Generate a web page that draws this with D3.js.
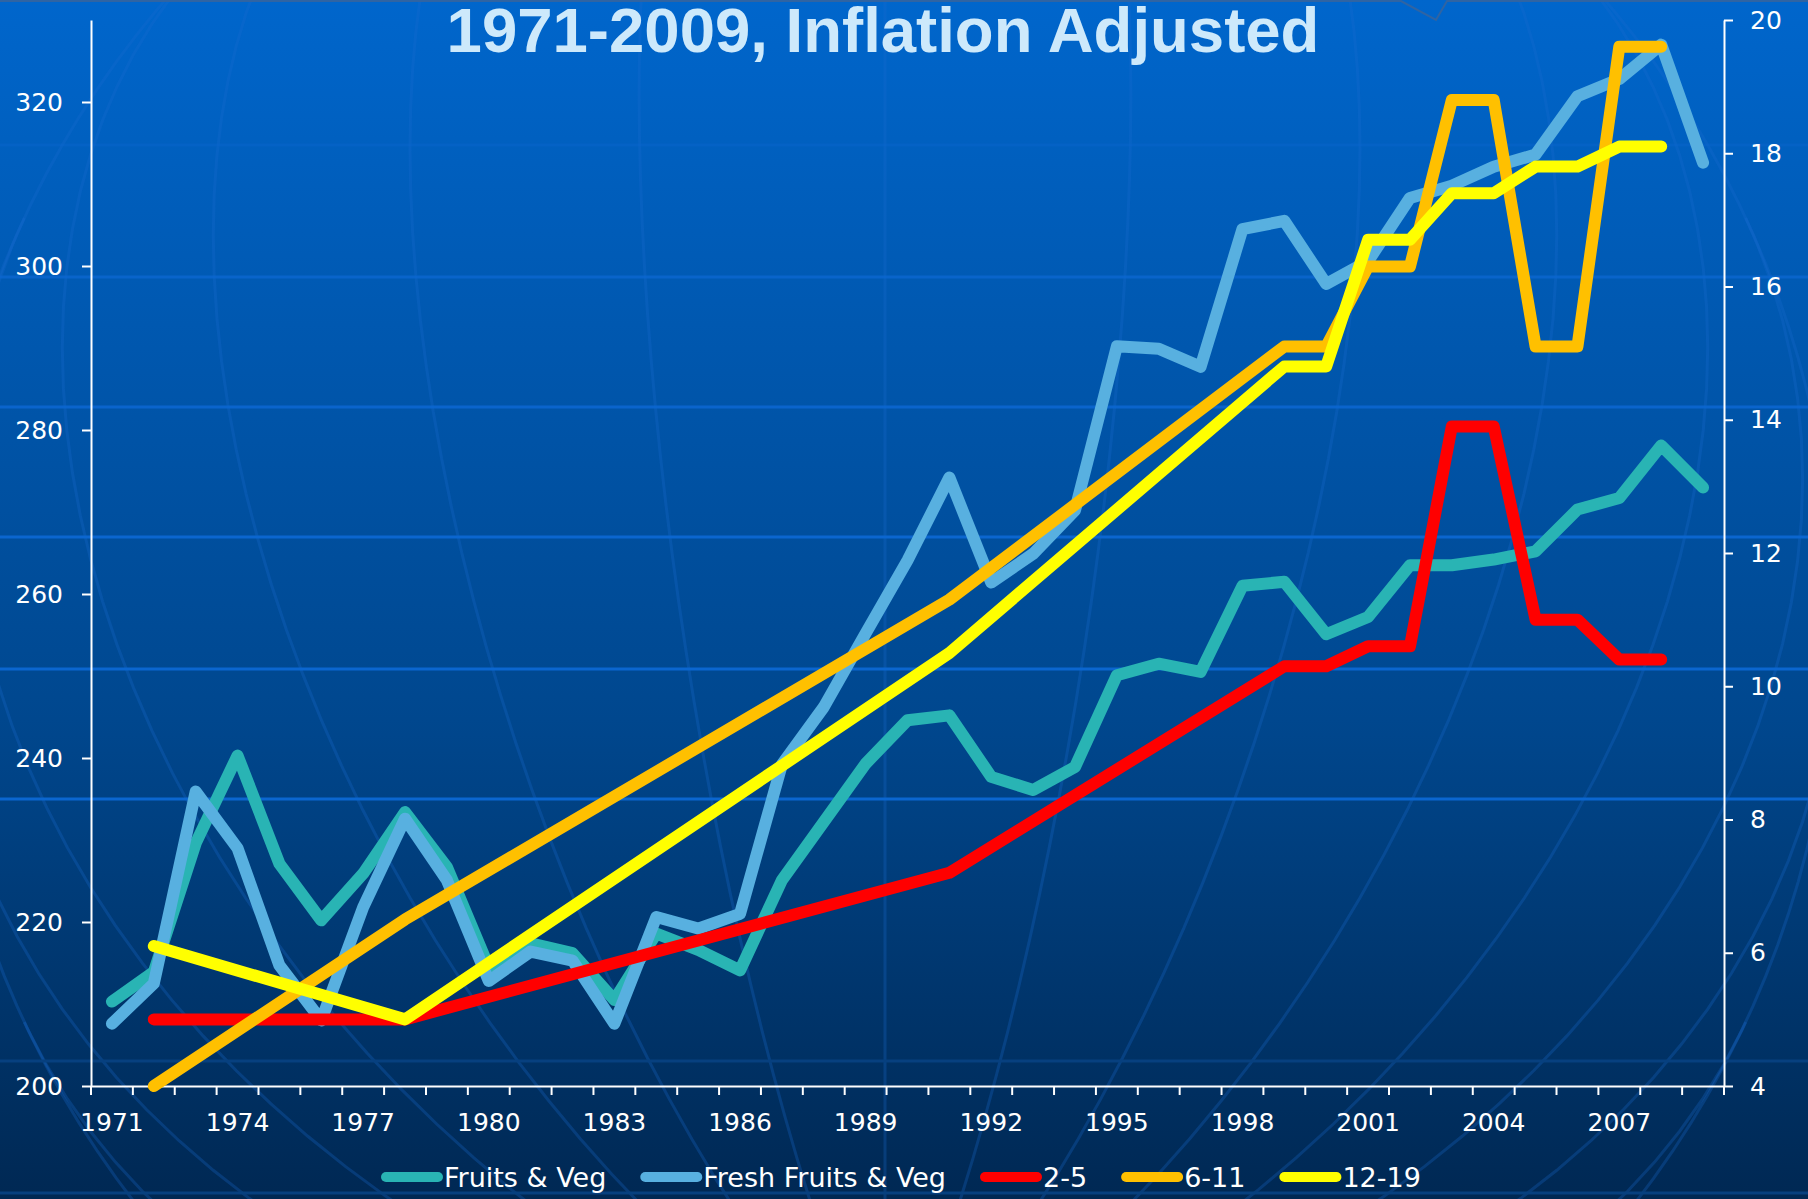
<!DOCTYPE html>
<html>
<head>
<meta charset="utf-8">
<script src="https://cdn.jsdelivr.net/npm/d3@7"></script>
<style>
  html, body { margin: 0; padding: 0; background: #003366; overflow: hidden; }
  svg { display: block; }
</style>
</head>
<body>
<svg id="chart"></svg>
<script>
// Categories
const years = [1971, 1972, 1973, 1974, 1975, 1976, 1977, 1978, 1979, 1980,
               1981, 1982, 1983, 1984, 1985, 1986, 1987, 1988, 1989, 1990,
               1991, 1992, 1993, 1994, 1995, 1996, 1997, 1998, 1999, 2000,
               2001, 2002, 2003, 2004, 2005, 2006, 2007, 2008, 2009];
const labelYears = [1971, 1974, 1977, 1980, 1983, 1986, 1989, 1992, 1995, 1998, 2001, 2004, 2007];

// Left axis series (one value per year)
const fruitsVeg = [210.3, 213.9, 229.6, 240.3, 227.1, 220.2, 225.9, 233.4, 226.7, 214.5,
                   217.4, 216.2, 210.5, 218.6, 216.6, 214.1, 225.1, 232.2, 239.3, 244.6,
                   245.2, 237.7, 236.1, 238.9, 250.1, 251.5, 250.5, 261.0, 261.5, 255.1,
                   257.2, 263.5, 263.5, 264.2, 265.2, 270.3, 271.7, 278.1, 273.0];
const freshFruitsVeg = [207.6, 212.5, 235.9, 229.0, 214.7, 208.0, 221.8, 232.6, 225.1, 212.8,
                        216.4, 215.3, 207.6, 220.6, 219.2, 221.0, 239.2, 246.2, 255.2, 264.1,
                        274.2, 261.4, 264.9, 270.2, 290.2, 289.9, 287.7, 304.5, 305.5, 297.8,
                        300.6, 308.3, 309.8, 312.1, 313.6, 320.7, 322.8, 327.0, 312.6];

// Right axis series (only survey years)
const surveyYears = [1972, 1978, 1991, 1999, 2000, 2001, 2002, 2003, 2004, 2005, 2006, 2007, 2008];
const age2to5   = [5.0, 5.0, 7.2, 10.3, 10.3, 10.6, 10.6, 13.9, 13.9, 11.0, 11.0, 10.4, 10.4];
const age6to11  = [4.0, 6.5, 11.3, 15.1, 15.1, 16.3, 16.3, 18.8, 18.8, 15.1, 15.1, 19.6, 19.6];
const age12to19 = [6.1, 5.0, 10.5, 14.8, 14.8, 16.7, 16.7, 17.4, 17.4, 17.8, 17.8, 18.1, 18.1];

const leftTicks  = [200, 220, 240, 260, 280, 300, 320];
const rightTicks = [4, 6, 8, 10, 12, 14, 16, 18, 20];

const seriesNames  = ['Fruits & Veg', 'Fresh Fruits & Veg', '2-5', '6-11', '12-19'];
const seriesColors = ['#29b4b4', '#58b0e0', '#ff0000', '#ffc000', '#ffff00'];

const W = 1808, H = 1199;
const svg = d3.select('#chart').attr('width', W).attr('height', H);

const plotLeft = 91, plotRight = 1724, plotTop = 20, plotBottom = 1086;
const axisFont = "Verdana, 'DejaVu Sans', sans-serif";

// Background
const defs = svg.append('defs');
const grad = defs.append('linearGradient').attr('id', 'bg')
  .attr('x1', 0).attr('y1', 0).attr('x2', 0).attr('y2', 1);
grad.append('stop').attr('offset', '0%').attr('stop-color', '#0066cc');
grad.append('stop').attr('offset', '60%').attr('stop-color', '#00478e');
grad.append('stop').attr('offset', '100%').attr('stop-color', '#002853');
svg.append('rect').attr('width', W).attr('height', H).attr('fill', 'url(#bg)');

// faint globe meridians
const proj = d3.geoOrthographic().scale(950).translate([885, 620]).rotate([0, 35]);
const geoPath = d3.geoPath(proj);
const deco = svg.append('g').attr('fill', 'none');
d3.range(-180, 180, 15).forEach(lon => {
  deco.append('path')
    .attr('d', geoPath({ type: 'LineString', coordinates: d3.range(-90, 91, 3).map(lat => [lon, lat]) }))
    .attr('stroke', '#1a6ad0').attr('stroke-opacity', 0.28).attr('stroke-width', 3);
});
deco.append('path').attr('d', geoPath({ type: 'Sphere' }))
  .attr('stroke', '#1a6ad0').attr('stroke-opacity', 0.28).attr('stroke-width', 3);

// horizontal template bands
[[145, '#0b66cf', 0.4], [277, '#0b66cf', 0.8], [407, '#0b66cf', 0.9], [537, '#0b66cf', 1],
 [669, '#0b66cf', 1], [799, '#0b66cf', 1], [1061, '#07407f', 1], [1193, '#07407f', 1]]
  .forEach(([yy, c, o]) => {
    deco.append('line').attr('x1', 0).attr('x2', W).attr('y1', yy).attr('y2', yy)
      .attr('stroke', c).attr('stroke-opacity', o).attr('stroke-width', 3);
  });
deco.append('polyline')
  .attr('points', '0,1 1401,1 1436,20 1447,1 1808,1')
  .attr('stroke', '#2f64a3').attr('stroke-width', 2);

// Scales
const x = d3.scaleBand().domain(years).range([plotLeft, plotRight]).padding(0);
const cx = yr => x(yr) + x.bandwidth() / 2;
const yL = d3.scaleLinear().domain([200, 330]).range([plotBottom, plotTop]);
const yR = d3.scaleLinear().domain([4, 20]).range([plotBottom, plotTop]);

function styleAxis(g) {
  g.selectAll('path, line').attr('stroke', '#fff').attr('stroke-width', 2);
  g.selectAll('text').attr('fill', '#fff').attr('font-size', 25).attr('font-family', axisFont);
}

// Axes
const gL = svg.append('g').attr('transform', `translate(${plotLeft},0)`)
  .call(d3.axisLeft(yL).tickValues(leftTicks).tickSize(9).tickSizeOuter(0).tickPadding(19));
styleAxis(gL);

const gR = svg.append('g').attr('transform', `translate(${plotRight},0)`)
  .call(d3.axisRight(yR).tickValues(rightTicks).tickSize(9).tickSizeOuter(0).tickPadding(17));
styleAxis(gR);

const gB = svg.append('g').attr('transform', `translate(0,${plotBottom})`)
  .call(d3.axisBottom(x).tickValues(labelYears).tickSize(0).tickSizeOuter(0).tickPadding(27));
gB.selectAll('.tick line').remove();
gB.selectAll('.boundary').data(years.map(d => x(d)).concat([plotRight]))
  .enter().append('line').attr('class', 'boundary')
  .attr('x1', d => d).attr('x2', d => d).attr('y1', 0).attr('y2', 9);
styleAxis(gB);

// Series
const lineL = d3.line().x(d => cx(d.year)).y(d => yL(d.v));
const lineR = d3.line().x(d => cx(d.year)).y(d => yR(d.v));

const seriesData = [
  { path: lineL, pts: years.map((yr, i) => ({ year: yr, v: fruitsVeg[i] })) },
  { path: lineL, pts: years.map((yr, i) => ({ year: yr, v: freshFruitsVeg[i] })) },
  { path: lineR, pts: surveyYears.map((yr, i) => ({ year: yr, v: age2to5[i] })) },
  { path: lineR, pts: surveyYears.map((yr, i) => ({ year: yr, v: age6to11[i] })) },
  { path: lineR, pts: surveyYears.map((yr, i) => ({ year: yr, v: age12to19[i] })) }
];

svg.append('g').selectAll('path').data(seriesData).enter().append('path')
  .attr('d', d => d.path(d.pts))
  .attr('fill', 'none')
  .attr('stroke', (d, i) => seriesColors[i])
  .attr('stroke-width', 12)
  .attr('stroke-linejoin', 'round')
  .attr('stroke-linecap', 'round');

// Legend
const legend = svg.append('g').attr('transform', 'translate(381,1177)');
let lx = 0;
seriesNames.forEach((name, i) => {
  const item = legend.append('g').attr('transform', `translate(${lx},0)`);
  item.append('line').attr('x1', 5).attr('x2', 57).attr('y1', 0).attr('y2', 0)
    .attr('stroke', seriesColors[i]).attr('stroke-width', 10).attr('stroke-linecap', 'round');
  const t = item.append('text').attr('x', 63).attr('y', 10)
    .attr('fill', '#fff').attr('font-size', 27).attr('font-family', axisFont).text(name);
  lx += 63 + t.node().getComputedTextLength() + 34;
});

// Title
svg.append('text')
  .attr('x', 883).attr('y', 52)
  .attr('text-anchor', 'middle')
  .attr('font-family', "'Liberation Sans', Arial, sans-serif")
  .attr('font-weight', 'bold')
  .attr('font-size', 63.5)
  .attr('fill', '#cde9fb')
  .text('1971-2009, Inflation Adjusted');
</script>
</body>
</html>
